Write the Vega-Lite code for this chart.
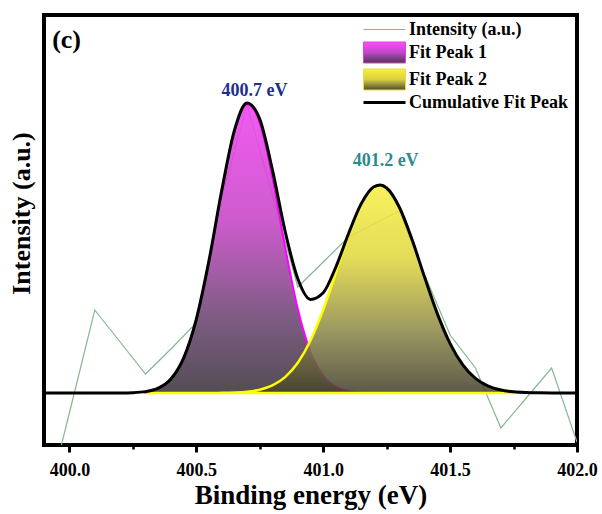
{
  "$schema": "https://vega.github.io/schema/vega-lite/v6.json",
  "width": 533,
  "height": 430,
  "autosize": {"type": "none"},
  "padding": {"left": 44, "top": 15, "right": 25, "bottom": 69},
  "background": "white",
  "config": {"view": {"stroke": "black", "strokeWidth": 4}, "font": "Liberation Serif"},
  "datasets": {
    "raw": [
      {"E": 399.9, "I": -122, "series": "Intensity (a.u.)"},
      {"E": 400.0, "I": -20, "series": "Intensity (a.u.)"},
      {"E": 400.1, "I": 83, "series": "Intensity (a.u.)"},
      {"E": 400.2, "I": 51, "series": "Intensity (a.u.)"},
      {"E": 400.3, "I": 19, "series": "Intensity (a.u.)"},
      {"E": 400.4, "I": 44, "series": "Intensity (a.u.)"},
      {"E": 400.5, "I": 70, "series": "Intensity (a.u.)"},
      {"E": 400.6, "I": 195, "series": "Intensity (a.u.)"},
      {"E": 400.7, "I": 288, "series": "Intensity (a.u.)"},
      {"E": 400.8, "I": 198, "series": "Intensity (a.u.)"},
      {"E": 400.9, "I": 106, "series": "Intensity (a.u.)"},
      {"E": 401.0, "I": 131, "series": "Intensity (a.u.)"},
      {"E": 401.1, "I": 156, "series": "Intensity (a.u.)"},
      {"E": 401.2, "I": 169, "series": "Intensity (a.u.)"},
      {"E": 401.3, "I": 182, "series": "Intensity (a.u.)"},
      {"E": 401.4, "I": 118, "series": "Intensity (a.u.)"},
      {"E": 401.5, "I": 58, "series": "Intensity (a.u.)"},
      {"E": 401.6, "I": 25, "series": "Intensity (a.u.)"},
      {"E": 401.7, "I": -35, "series": "Intensity (a.u.)"},
      {"E": 401.8, "I": -5, "series": "Intensity (a.u.)"},
      {"E": 401.9, "I": 25, "series": "Intensity (a.u.)"},
      {"E": 402.0, "I": -49, "series": "Intensity (a.u.)"}
    ],
    "peak1": [
      {"E": 400.30, "I": 1.39}, {"E": 400.35, "I": 4.80}, {"E": 400.40, "I": 14.04},
      {"E": 400.45, "I": 34.88}, {"E": 400.50, "I": 73.69}, {"E": 400.55, "I": 132.31},
      {"E": 400.60, "I": 201.93}, {"E": 400.65, "I": 261.93}, {"E": 400.70, "I": 288.77},
      {"E": 400.75, "I": 270.58}, {"E": 400.80, "I": 215.50}, {"E": 400.85, "I": 145.87},
      {"E": 400.90, "I": 83.92}, {"E": 400.95, "I": 41.04}, {"E": 401.00, "I": 17.05},
      {"E": 401.05, "I": 6.03}, {"E": 401.10, "I": 1.81}, {"E": 401.15, "I": 0.46},
      {"E": 401.20, "I": 0.10}, {"E": 401.25, "I": 0.02}, {"E": 401.30, "I": 0.0}
    ],
    "peak2": [
      {"E": 400.30, "I": 0.0}, {"E": 400.40, "I": 0.0}, {"E": 400.50, "I": 0.01},
      {"E": 400.55, "I": 0.05}, {"E": 400.60, "I": 0.16}, {"E": 400.65, "I": 0.47},
      {"E": 400.70, "I": 1.31}, {"E": 400.75, "I": 3.31}, {"E": 400.80, "I": 7.59},
      {"E": 400.85, "I": 15.88}, {"E": 400.90, "I": 30.27}, {"E": 400.95, "I": 52.57},
      {"E": 401.00, "I": 83.21}, {"E": 401.05, "I": 120.00}, {"E": 401.10, "I": 157.72},
      {"E": 401.15, "I": 188.89}, {"E": 401.20, "I": 206.14}, {"E": 401.225, "I": 207.97},
      {"E": 401.25, "I": 204.99}, {"E": 401.30, "I": 185.76}, {"E": 401.35, "I": 153.39},
      {"E": 401.40, "I": 115.42}, {"E": 401.45, "I": 79.13}, {"E": 401.50, "I": 49.44},
      {"E": 401.55, "I": 28.15}, {"E": 401.60, "I": 14.61}, {"E": 401.65, "I": 6.90},
      {"E": 401.70, "I": 2.97}, {"E": 401.75, "I": 1.17}
    ],
    "cum": [
      {"E": 399.90, "I": 0}, {"E": 400.00, "I": 0}, {"E": 400.10, "I": 0},
      {"E": 400.15, "I": 0.01}, {"E": 400.20, "I": 0.07}, {"E": 400.25, "I": 0.34},
      {"E": 400.30, "I": 1.39}, {"E": 400.35, "I": 4.80}, {"E": 400.40, "I": 14.04},
      {"E": 400.45, "I": 34.88}, {"E": 400.50, "I": 73.70}, {"E": 400.55, "I": 132.36},
      {"E": 400.60, "I": 202.09}, {"E": 400.65, "I": 262.40}, {"E": 400.70, "I": 290.08},
      {"E": 400.75, "I": 273.89}, {"E": 400.80, "I": 223.09}, {"E": 400.85, "I": 161.75},
      {"E": 400.90, "I": 114.19}, {"E": 400.95, "I": 93.61}, {"E": 401.00, "I": 100.26},
      {"E": 401.05, "I": 126.03}, {"E": 401.10, "I": 159.53}, {"E": 401.15, "I": 189.35},
      {"E": 401.20, "I": 206.24}, {"E": 401.225, "I": 208.0}, {"E": 401.25, "I": 205.01},
      {"E": 401.30, "I": 185.76}, {"E": 401.35, "I": 153.39}, {"E": 401.40, "I": 115.42},
      {"E": 401.45, "I": 79.13}, {"E": 401.50, "I": 49.44}, {"E": 401.55, "I": 28.15},
      {"E": 401.60, "I": 14.61}, {"E": 401.65, "I": 6.90}, {"E": 401.70, "I": 2.97},
      {"E": 401.75, "I": 1.17}, {"E": 401.80, "I": 0.42}, {"E": 401.85, "I": 0.14},
      {"E": 401.90, "I": 0.04}, {"E": 401.95, "I": 0.01}, {"E": 402.00, "I": 0}
    ],
    "labels": [
      {"E": 400.729, "I": 302, "label": "400.7 eV", "peak": "1"},
      {"E": 401.246, "I": 232, "label": "401.2 eV", "peak": "2"}
    ],
    "panel": [
      {"E": 399.989, "I": 353, "label": "(c)"}
    ]
  },
  "layer": [
    {
      "data": {"name": "raw"},
      "mark": {"type": "line", "strokeWidth": 1.2, "clip": true},
      "encoding": {
        "x": {"field": "E", "type": "quantitative", "scale": {"domain": [399.9, 402.0], "nice": false, "zero": false},
          "axis": {"orient": "bottom", "values": [400.0, 400.5, 401.0, 401.5, 402.0], "format": ".1f", "grid": false, "domain": false,
            "tickSize": 7, "tickWidth": 3, "tickColor": "black",
            "labelFont": "Liberation Serif", "labelFontSize": 18, "labelFontWeight": "bold", "labelColor": "black", "labelPadding": 9, "labelFlush": false, "labelOverlap": false,
            "title": "Binding energy (eV)", "titleFont": "Liberation Serif", "titleFontSize": 27, "titleFontWeight": "bold", "titleColor": "black", "titlePadding": 3}},
        "y": {"field": "I", "type": "quantitative", "scale": {"domain": [-52, 378], "nice": false, "zero": false},
          "axis": {"title": "Intensity (a.u.)", "labels": false, "ticks": false, "domain": false, "grid": false, "titleFont": "Liberation Serif", "titleFontSize": 26, "titleFontWeight": "bold", "titleColor": "black", "titlePadding": 10, "titleY": 198}},
        "stroke": {"field": "series", "type": "nominal",
          "scale": {"domain": ["Intensity (a.u.)", "Fit Peak 1", "Fit Peak 2", "Cumulative Fit Peak"], "range": ["#86b88f", "#e040e0", "#e8e040", "#000000"]},
          "legend": {"orient": "none", "legendX": 331.5, "legendY": 5.5, "title": null, "padding": 0, "rowPadding": 1.0,
            "labelFont": "Liberation Serif", "labelFontSize": 18, "labelFontWeight": "bold", "labelColor": "black", "labelOffset": 15.5, "labelLimit": 300,
            "symbolSize": 441,
            "encode": {"symbols": {"update": {
              "size": {"value": 441},
              "shape": {"signal": "(datum.value === 'Fit Peak 1' || datum.value === 'Fit Peak 2') ? 'M-2,-1H2V1H-2Z' : 'M-2,0H2'"},
              "fill": {"signal": "datum.value === 'Fit Peak 1' ? {gradient: 'linear', x1: 0, y1: 0, x2: 0, y2: 1, stops: [{offset: 0, color: '#ff4cff'}, {offset: 0.5, color: '#c046c8'}, {offset: 1, color: '#4a3a4c'}]} : (datum.value === 'Fit Peak 2' ? {gradient: 'linear', x1: 0, y1: 0, x2: 0, y2: 1, stops: [{offset: 0, color: '#f8f040'}, {offset: 0.5, color: '#d8d040'}, {offset: 1, color: '#4a4a32'}]} : 'transparent')"},
              "stroke": {"signal": "(datum.value === 'Fit Peak 1' || datum.value === 'Fit Peak 2') ? '#555555' : (datum.value === 'Cumulative Fit Peak' ? '#000000' : '#86b88f')"},
              "strokeWidth": {"signal": "datum.value === 'Cumulative Fit Peak' ? 3 : 1"},
              "opacity": {"value": 1}
            }}}}}
      }
    },
    {
      "data": {"name": "peak1"},
      "mark": {"type": "area", "interpolate": "monotone", "fillOpacity": 0.9, "stroke": "#ff00ff", "strokeWidth": 2,
        "fill": {"gradient": "linear", "x1": 0, "y1": 0, "x2": 0, "y2": 1, "stops": [{"offset": 0, "color": "#f048f0"}, {"offset": 0.4, "color": "#c84ac8"}, {"offset": 0.75, "color": "#6e4a74"}, {"offset": 1, "color": "#403a40"}]}},
      "encoding": {
        "x": {"field": "E", "type": "quantitative", "scale": {"domain": [399.9, 402.0], "nice": false, "zero": false},
          "axis": {"orient": "bottom", "values": [400.25, 400.75, 401.25, 401.75], "labels": false, "domain": false, "grid": false, "tickSize": 4, "tickWidth": 2.5, "tickColor": "black", "title": null}},
        "y": {"field": "I", "type": "quantitative", "scale": {"domain": [-52, 378], "nice": false, "zero": false},
          "axis": {"title": "Intensity (a.u.)", "labels": false, "ticks": false, "domain": false, "grid": false, "titleFont": "Liberation Serif", "titleFontSize": 26, "titleFontWeight": "bold", "titleColor": "black", "titlePadding": 10, "titleY": 198}}
      }
    },
    {
      "data": {"name": "peak2"},
      "mark": {"type": "area", "interpolate": "monotone", "fillOpacity": 0.88, "stroke": "#ffff00", "strokeWidth": 2.5,
        "fill": {"gradient": "linear", "x1": 0, "y1": 0, "x2": 0, "y2": 1, "stops": [{"offset": 0, "color": "#f7ef45"}, {"offset": 0.35, "color": "#e0d842"}, {"offset": 0.7, "color": "#8f8a4c"}, {"offset": 1, "color": "#45432f"}]}},
      "encoding": {
        "x": {"field": "E", "type": "quantitative", "scale": {"domain": [399.9, 402.0], "nice": false, "zero": false}, "axis": null},
        "y": {"field": "I", "type": "quantitative", "scale": {"domain": [-52, 378], "nice": false, "zero": false},
          "axis": {"title": "Intensity (a.u.)", "labels": false, "ticks": false, "domain": false, "grid": false, "titleFont": "Liberation Serif", "titleFontSize": 26, "titleFontWeight": "bold", "titleColor": "black", "titlePadding": 10, "titleY": 198}}
      }
    },
    {
      "data": {"name": "cum"},
      "mark": {"type": "line", "interpolate": "monotone", "color": "black", "strokeWidth": 3},
      "encoding": {
        "x": {"field": "E", "type": "quantitative", "scale": {"domain": [399.9, 402.0], "nice": false, "zero": false}, "axis": null},
        "y": {"field": "I", "type": "quantitative", "scale": {"domain": [-52, 378], "nice": false, "zero": false},
          "axis": {"title": "Intensity (a.u.)", "labels": false, "ticks": false, "domain": false, "grid": false, "titleFont": "Liberation Serif", "titleFontSize": 26, "titleFontWeight": "bold", "titleColor": "black", "titlePadding": 10, "titleY": 198}}
      }
    },
    {
      "data": {"name": "labels"},
      "mark": {"type": "text", "font": "Liberation Serif", "fontSize": 18, "fontWeight": "bold", "baseline": "middle", "align": "center"},
      "encoding": {
        "x": {"field": "E", "type": "quantitative", "scale": {"domain": [399.9, 402.0], "nice": false, "zero": false}, "axis": null},
        "y": {"field": "I", "type": "quantitative", "scale": {"domain": [-52, 378], "nice": false, "zero": false},
          "axis": {"title": "Intensity (a.u.)", "labels": false, "ticks": false, "domain": false, "grid": false, "titleFont": "Liberation Serif", "titleFontSize": 26, "titleFontWeight": "bold", "titleColor": "black", "titlePadding": 10, "titleY": 198}},
        "text": {"field": "label"},
        "color": {"field": "peak", "type": "nominal", "scale": {"domain": ["1", "2"], "range": ["#1f2f8f", "#2e8b8b"]}, "legend": null}
      }
    },
    {
      "data": {"name": "panel"},
      "mark": {"type": "text", "font": "Liberation Serif", "fontSize": 26, "fontWeight": "bold", "baseline": "middle", "align": "center", "color": "black"},
      "encoding": {
        "x": {"field": "E", "type": "quantitative", "scale": {"domain": [399.9, 402.0], "nice": false, "zero": false}, "axis": null},
        "y": {"field": "I", "type": "quantitative", "scale": {"domain": [-52, 378], "nice": false, "zero": false},
          "axis": {"title": "Intensity (a.u.)", "labels": false, "ticks": false, "domain": false, "grid": false, "titleFont": "Liberation Serif", "titleFontSize": 26, "titleFontWeight": "bold", "titleColor": "black", "titlePadding": 10, "titleY": 198}},
        "text": {"field": "label"}
      }
    }
  ],
  "resolve": {"axis": {"x": "independent"}}
}
